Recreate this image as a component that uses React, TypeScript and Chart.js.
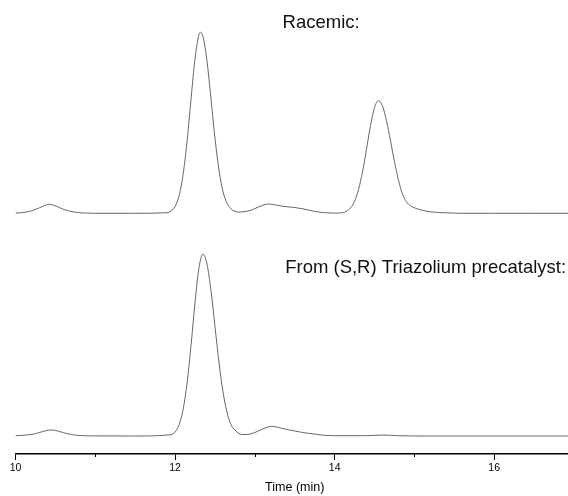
import React, { useEffect, useRef } from 'react';
import { Chart, registerables } from 'chart.js';

Chart.register(...registerables);

// ---- Data ----
const UPPER_TIME = [
  10.0, 10.1, 10.2, 10.3, 10.35, 10.42, 10.5, 10.55, 10.6, 10.7, 10.8, 10.9, 11.0, 11.5,
  11.9, 11.95, 12.0, 12.05, 12.1, 12.15, 12.2, 12.25, 12.3, 12.32, 12.35, 12.4, 12.45, 12.5,
  12.55, 12.6, 12.65, 12.7, 12.75, 12.8, 12.85, 12.95, 13.05, 13.17, 13.25, 13.35, 13.48,
  13.6, 13.77, 13.9, 14.0, 14.1, 14.15, 14.2, 14.25, 14.3, 14.35, 14.4, 14.45, 14.5, 14.55,
  14.6, 14.65, 14.7, 14.75, 14.8, 14.85, 14.9, 14.95, 15.0, 15.1, 15.2, 15.4, 15.6, 16.0,
  16.5, 17.0,
];
const UPPER_SIGNAL = [
  0.3, 0.8, 2.5, 5.5, 7.3, 9, 7.5, 5.8, 4, 1.8, 0.6, 0.2, 0, 0,
  0.6, 2.3, 6.8, 17.5, 38.5, 71.8, 114.2, 154.7, 178.7, 181, 176.7, 152.3, 114.6, 75.4,
  43.3, 21.8, 10.5, 4.5, 2, 1.2, 1.5, 3, 6.5, 9.3, 8.5, 7, 6,
  4.5, 1.6, 0.5, 0.2, 0.6, 2.1, 5.4, 12.1, 23.9, 41.7, 64.4, 87.9, 105.8, 112.6,
  107.2, 92.6, 72.6, 51.6, 33.2, 19.4, 11.5, 7.5, 5.5, 3, 1.5, 0.5, 0, 0,
  0, 0,
];

const LOWER_TIME = [
  10.0, 10.2, 10.3, 10.38, 10.45, 10.52, 10.6, 10.7, 10.8, 11.0, 11.5, 11.95, 12.0, 12.05,
  12.1, 12.15, 12.2, 12.25, 12.3, 12.35, 12.4, 12.45, 12.5, 12.55, 12.6, 12.65, 12.7, 12.75,
  12.8, 12.85, 12.9, 13.0, 13.1, 13.21, 13.3, 13.4, 13.5, 13.6, 13.77, 13.9, 14.0, 14.4,
  14.6, 14.8, 15.2, 16.0, 17.0,
];
const LOWER_SIGNAL = [
  0.3, 1.5, 3.5, 5.3, 6, 5.2, 3.3, 1.5, 0.5, 0.1, 0, 1.3, 4.1, 11.2,
  26.2, 52.7, 90.6, 133.5, 168.4, 182, 172, 145.3, 109.6, 74, 44.5, 24, 11.5, 6,
  2.5, 1.5, 1.5, 3.5, 7, 9.7, 8.5, 6.5, 5, 3.5, 1.7, 0.5, 0.3, 0.3,
  1, 0.3, 0, 0, 0,
];

// Vertical offsets that stack the two traces on one hidden axis
const UPPER_OFFSET = 240.7;
const LOWER_OFFSET = 18;

const X_MIN = 10;
const X_MAX = 17;
const MAJOR_TICKS = [10, 12, 14, 16];
const MINOR_TICKS = [11, 13, 15, 17];

const UPPER_LABEL = 'Racemic:';
const LOWER_LABEL = 'From (S,R) Triazolium precatalyst:';
const X_TITLE = 'Time (min)';

const FONT = '"Liberation Sans", Arial, Helvetica, sans-serif';

const annotationPlugin = {
  id: 'chromAnnotations',
  afterDraw(chart: any) {
    const { ctx, chartArea } = chart;
    const xs = chart.scales.x;
    const ys = chart.scales.y;
    ctx.save();
    // minor ticks
    ctx.strokeStyle = '#000';
    ctx.lineWidth = 1;
    MINOR_TICKS.forEach((v) => {
      const px = Math.round(xs.getPixelForValue(v)) + 0.5;
      ctx.beginPath();
      ctx.moveTo(px, chartArea.bottom);
      ctx.lineTo(px, chartArea.bottom + 3);
      ctx.stroke();
    });
    // labels
    ctx.fillStyle = '#111';
    ctx.font = `18.5px ${FONT}`;
    ctx.textBaseline = 'middle';
    ctx.textAlign = 'center';
    ctx.fillText(UPPER_LABEL, xs.getPixelForValue(13.83), ys.getPixelForValue(430.7));
    ctx.textAlign = 'left';
    ctx.fillText(LOWER_LABEL, xs.getPixelForValue(13.38), ys.getPixelForValue(186));
    ctx.restore();
  },
};

export default function App() {
  const canvasRef = useRef<HTMLCanvasElement | null>(null);

  useEffect(() => {
    const canvas = canvasRef.current;
    if (!canvas) return;
    Chart.defaults.font.family = FONT;

    const upper = UPPER_TIME.map((t, i) => ({ x: t, y: UPPER_SIGNAL[i] + UPPER_OFFSET }));
    const lower = LOWER_TIME.map((t, i) => ({ x: t, y: LOWER_SIGNAL[i] + LOWER_OFFSET }));

    const chart = new Chart(canvas, {
      type: 'line',
      data: {
        datasets: [
          {
            label: 'Racemic',
            data: upper,
            borderColor: '#555',
            borderWidth: 0.9,
            pointRadius: 0,
            fill: false,
            cubicInterpolationMode: 'monotone',
          },
          {
            label: 'From (S,R)',
            data: lower,
            borderColor: '#555',
            borderWidth: 0.9,
            pointRadius: 0,
            fill: false,
            cubicInterpolationMode: 'monotone',
          },
        ],
      },
      options: {
        responsive: false,
        animation: false,
        layout: { padding: { left: 15.5, right: 2, top: 0, bottom: 0 } },
        plugins: {
          legend: { display: false },
          tooltip: { enabled: false },
        },
        scales: {
          x: {
            type: 'linear',
            min: X_MIN,
            max: X_MAX,
            afterFit: (scale: any) => {
              scale.height = 42;
            },
            border: { display: true, color: '#000', width: 1.5 },
            grid: {
              drawOnChartArea: false,
              drawTicks: true,
              tickLength: 6,
              tickWidth: 1,
              tickColor: (c: any) =>
                MAJOR_TICKS.includes(c.tick?.value) ? '#000' : 'rgba(0,0,0,0)',
            },
            ticks: {
              stepSize: 1,
              includeBounds: false,
              autoSkip: false,
              maxRotation: 0,
              padding: 2,
              color: '#000',
              font: { size: 10.5 },
              callback: (v: any) => (MAJOR_TICKS.includes(Number(v)) ? String(v) : ''),
            },
            title: {
              display: true,
              text: X_TITLE,
              color: '#000',
              font: { size: 12.5, lineHeight: 1 },
              padding: { top: 0, bottom: 2 },
            },
          },
          y: {
            display: false,
            min: 0,
            max: 454,
          },
        },
      },
      plugins: [annotationPlugin],
    });

    return () => chart.destroy();
  }, []);

  return (
    <div
      style={{
        position: 'fixed',
        left: 0,
        top: 0,
        width: 568,
        height: 496,
        overflow: 'hidden',
        background: '#fff',
      }}
    >
      <canvas ref={canvasRef} width={576} height={496} style={{ display: 'block' }} />
    </div>
  );
}
